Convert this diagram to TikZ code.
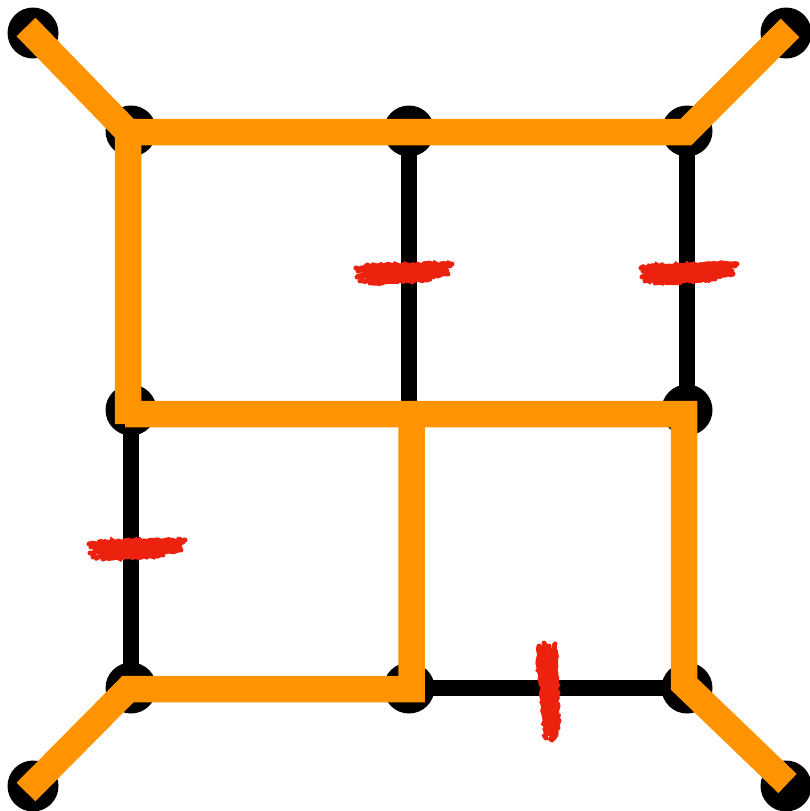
\documentclass[tikz,border=0pt]{standalone}
\usetikzlibrary{decorations.pathmorphing}
\definecolor{orng}{RGB}{255,148,0}
\definecolor{scrib}{RGB}{236,34,14}
\newcommand\myhscrib{%
  \draw[scribble] (357,277) -- (447,271);
  \draw[scribble] (358,271) -- (450,266);
  \draw[scribble] (360,281) -- (440,275);
  \draw[scribble] (366,266) -- (452,264);
  \draw[scribble] (370,283) -- (430,279);
  \draw[scribble] (380,273) -- (445,269);
  \draw[scribble] (362,275) -- (420,272);
  \draw[scribble] (356,268) -- (400,267);
  \draw[scribble] (390,278) -- (448,274);
}
\begin{document}
\begin{tikzpicture}[x=1pt,y=-1pt,
  dot/.style={circle,fill=black,minimum size=51pt,inner sep=0pt},
  edge/.style={black,line width=16pt},
  opath/.style={orng,line width=26.5pt,line join=miter},
  scribble/.style={scrib,line width=5pt,line cap=round,decorate,
    decoration={random steps,segment length=2pt,amplitude=1.2pt}}]
\useasboundingbox (0,0) rectangle (809,811);
% nodes
\node[dot] (c1) at (33,33) {};
\node[dot] (c2) at (786,33) {};
\node[dot] (c3) at (33,786) {};
\node[dot] (c4) at (786,786) {};
\node[dot] (a) at (131,131) {};
\node[dot] (b) at (409,131) {};
\node[dot] (c) at (687,131) {};
\node[dot] (d) at (131,410) {};
\coordinate (e) at (409,410);
\node[dot] (f) at (687,410) {};
\node[dot] (g) at (131,688) {};
\node[dot] (h) at (409,688) {};
\node[dot] (i) at (687,688) {};
% black edges
\foreach \u/\v in {c1/a,c2/c,c3/g,c4/i,a/b,b/c,a/d,b/e,c/f,d/e,e/f,d/g,e/h,f/i,g/h,h/i}
  \draw[edge] (\u.center) -- (\v.center);
% orange path vertices
\coordinate (p1) at (26,27);
\coordinate (p2) at (128,132);
\coordinate (p3) at (128,424);
\coordinate (p4) at (125,414);
\coordinate (p5) at (684,414);
\coordinate (p6) at (684,684);
\coordinate (p7) at (787.5,783.5);
\coordinate (q1) at (686,132);
\coordinate (q2) at (790,28);
\coordinate (r1) at (411.5,414);
\coordinate (r2) at (411.5,689);
\coordinate (r3) at (128,689);
\coordinate (r4) at (26,792);
\draw[opath] (p1) -- (p2) -- (p3);
\draw[opath] (p2) -- (q1) -- (q2);
\draw[opath] (p4) -- (p5) -- (p6) -- (p7);
\draw[opath] (r1) -- (r2) -- (r3) -- (r4);
% red scribble marks
\myhscrib
\begin{scope}[shift={(285,0)}]\myhscrib\end{scope}
\begin{scope}[shift={(-267,276)}]\myhscrib\end{scope}
\draw[scribble] (539,646) -- (546,738);
\draw[scribble] (544,643) -- (552,740);
\draw[scribble] (549,646) -- (556,735);
\draw[scribble] (555,644) -- (558,728);
\draw[scribble] (538,660) -- (548,725);
\draw[scribble] (546,655) -- (550,732);
\draw[scribble] (551,650) -- (554,738);
\draw[scribble] (541,650) -- (545,700);
\end{tikzpicture}
\end{document}
